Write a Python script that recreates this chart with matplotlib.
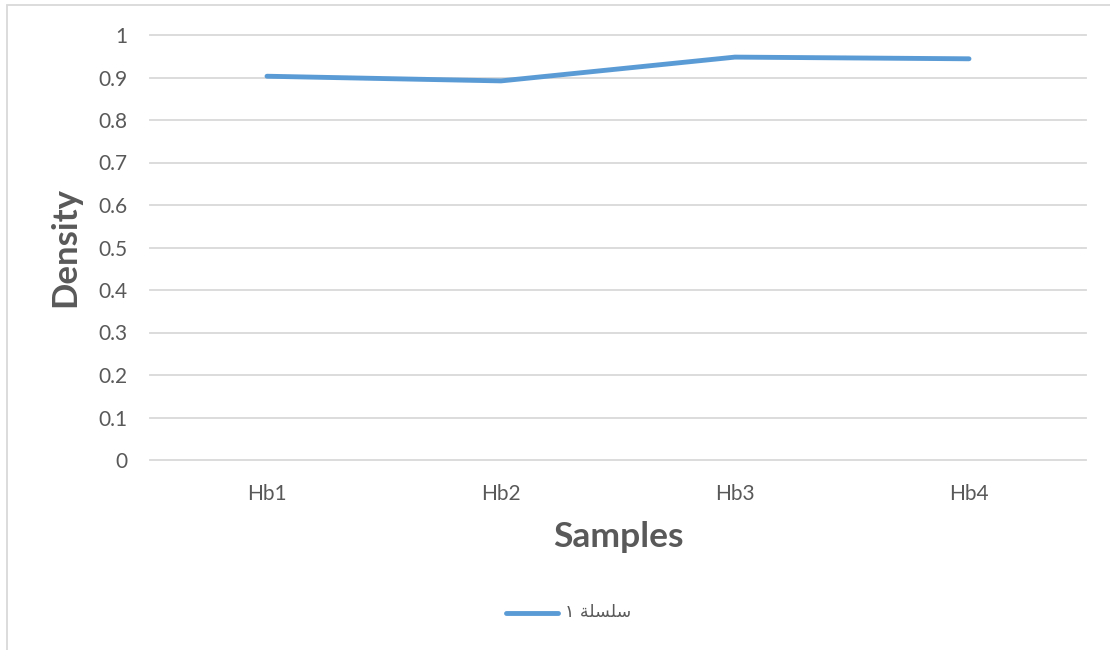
import matplotlib
matplotlib.use("Agg")
import matplotlib.pyplot as plt
from matplotlib.patches import Rectangle
from matplotlib.lines import Line2D

# Data
samples = ["Hb1", "Hb2", "Hb3", "Hb4"]
density = [0.903, 0.892, 0.948, 0.944]
y_ticks = [0, 0.1, 0.2, 0.3, 0.4, 0.5, 0.6, 0.7, 0.8, 0.9, 1]
y_tick_labels = ["0", "0.1", "0.2", "0.3", "0.4", "0.5", "0.6", "0.7", "0.8", "0.9", "1"]
# "سلسلة ١" written in Arabic presentation forms, visual order
series_name = "\u0661 \uFE94\uFEE0\uFEB4\uFEE0\uFEB3"

W, H = 1110, 650
text_color = "#595959"
grid_color = "#d9d9d9"
line_color = "#5b9bd5"

plt.rcParams["font.family"] = ["Lato", "DejaVu Sans"]

fig = plt.figure(figsize=(W / 100, H / 100), dpi=100)
fig.patch.set_facecolor("white")

# Outer chart border (extends past right and bottom edges)
fig.patches.append(Rectangle((7 / W, -0.1), 1.2, 1 - 5 / H + 0.1,
                             transform=fig.transFigure, fill=False,
                             edgecolor=grid_color, linewidth=1.3))

ax = fig.add_axes([150 / W, (H - 460) / H, (1086 - 150) / W, (460 - 35) / H])
x = list(range(len(samples)))
ax.plot(x, density, color=line_color, linewidth=3.5, solid_capstyle="round",
        solid_joinstyle="round", zorder=3)

ax.set_xlim(-0.5, len(samples) - 0.5)
ax.set_ylim(0, 1)
ax.set_yticks(y_ticks)
ax.set_yticklabels(y_tick_labels)
ax.set_xticks(x)
ax.set_xticklabels(samples)
ax.tick_params(axis="both", length=0, labelsize=15, colors=text_color)
ax.tick_params(axis="y", pad=16)
ax.tick_params(axis="x", pad=17)
for s in ax.spines.values():
    s.set_visible(False)
ax.grid(axis="y", color=grid_color, linewidth=1.3, clip_on=False)
for gl in ax.get_ygridlines():
    gl.set_clip_on(False)
ax.set_axisbelow(True)

fig.text(65 / W, 1 - 247 / H, "Density", rotation=90, ha="center", va="center",
         fontsize=25, fontweight="bold", color=text_color)
fig.text(618 / W, 1 - 537 / H, "Samples", ha="center", va="center",
         fontsize=25.5, fontweight="bold", color=text_color)

# Legend
fig.lines.append(Line2D([506 / W, 558 / W], [1 - 613 / H, 1 - 613 / H],
                        transform=fig.transFigure, color=line_color,
                        linewidth=3.5, solid_capstyle="round"))
fig.text(565 / W, 1 - 612 / H, series_name, ha="left", va="center",
         fontsize=12.5, color=text_color, family=["DejaVu Sans"])

fig.savefig("out.png", dpi=100)
